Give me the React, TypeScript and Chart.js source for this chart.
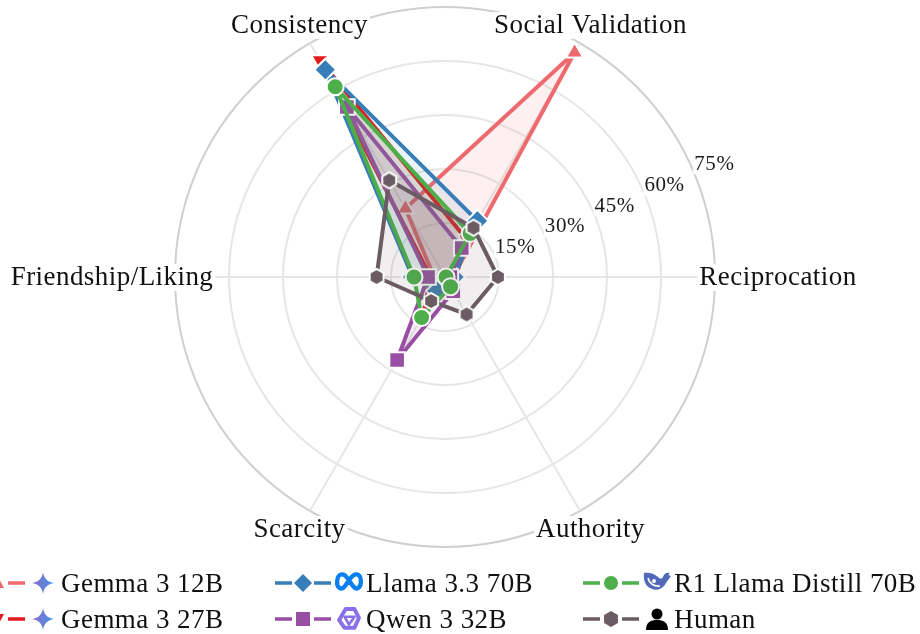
import React, { useEffect, useRef } from "react";
import { Chart, registerables } from "chart.js";

Chart.register(...registerables);

const categories = ["Reciprocation", "Authority", "Scarcity", "Friendship/Liking", "Consistency", "Social Validation"];
const tickValues = [15, 30, 45, 60, 75];

const gemma12 = [2.2, 1, 3, 3, 22, 72];
const gemma27 = [3, 2, 12, 4, 69.5, 12];
const llama70 = [2.5, 2, 4.5, 9, 66.5, 18];
const qwen32 = [1.5, 4.6, 26.6, 4.7, 54.5, 9.3];
const r1Llama = [0.3, 3.1, 13, 8.6, 61, 14];
const human = [14.7, 12, 7.7, 19, 31, 15.8];

const seriesNames = ["Gemma 3 12B", "Gemma 3 27B", "Llama 3.3 70B", "Qwen 3 32B", "R1 Llama Distill 70B", "Human"];
const seriesValues = [gemma12, gemma27, llama70, qwen32, r1Llama, human];
const seriesColors = ["#ef6a6f", "#e41a1c", "#377eb8", "#984ea3", "#4daf4a", "#6a5c62"];
const seriesFills = [
  "rgba(239,106,111,0.1)",
  "rgba(228,26,28,0.1)",
  "rgba(55,126,184,0.1)",
  "rgba(152,78,163,0.1)",
  "rgba(77,175,74,0.1)",
  "rgba(106,92,98,0.1)",
];

const SERIF = '"Liberation Serif", serif';
const LABEL_FONT = `27px ${SERIF}`;
const LABEL_SPACING = "0.45px";
const labelDistance = [333, 291, 291, 333, 291, 291];

function hexagonMarker(color: string) {
  const c = document.createElement("canvas");
  c.width = 22;
  c.height = 22;
  const g = c.getContext("2d")!;
  g.beginPath();
  for (let i = 0; i < 6; i++) {
    const a = Math.PI / 6 + (Math.PI / 3) * i;
    const x = 11 + 8 * Math.cos(a);
    const y = 11 + 8 * Math.sin(a);
    if (i === 0) g.moveTo(x, y);
    else g.lineTo(x, y);
  }
  g.closePath();
  g.fillStyle = color;
  g.fill();
  g.strokeStyle = "#fff";
  g.lineWidth = 2;
  g.stroke();
  return c;
}

const radarText = {
  id: "radarText",
  afterDraw(chart: any) {
    const scale = chart.scales.r;
    const ctx = chart.ctx;
    ctx.save();
    ctx.textAlign = "center";
    ctx.textBaseline = "middle";
    ctx.font = `21px ${SERIF}`;
    ctx.letterSpacing = "0.6px";
    const tickAngle = (-22.7 * Math.PI) / 180;
    scale.ticks.forEach((t: any) => {
      if (!tickValues.includes(t.value)) return;
      const d = scale.getDistanceFromCenterForValue(t.value) + 22;
      const x = scale.xCenter + d * Math.cos(tickAngle);
      const y = scale.yCenter + d * Math.sin(tickAngle);
      const label = `${t.value}%`;
      const w = ctx.measureText(label).width;
      ctx.fillStyle = "#fff";
      ctx.fillRect(x - w / 2 - 1, y - 10, w + 2, 20);
      ctx.fillStyle = "#1a1a1a";
      ctx.fillText(label, x, y);
    });
    ctx.font = LABEL_FONT;
    ctx.letterSpacing = LABEL_SPACING;
    categories.forEach((label, i) => {
      const p = scale.getPointPosition(i, labelDistance[i]);
      const w = ctx.measureText(label).width;
      ctx.fillStyle = "#fff";
      ctx.fillRect(p.x - w / 2 - 2, p.y - 13, w + 4, 27);
      ctx.fillStyle = "#111";
      ctx.fillText(label, p.x, p.y + 1);
    });
    ctx.restore();
  },
};

function Marker({ i, cx, cy }: { i: number; cx: number; cy: number }) {
  const c = seriesColors[i];
  if (i === 0) return <polygon points={`${cx},${cy - 8} ${cx + 7},${cy + 5} ${cx - 7},${cy + 5}`} fill={c} />;
  if (i === 1) return <polygon points={`${cx},${cy + 8} ${cx + 7},${cy - 5} ${cx - 7},${cy - 5}`} fill={c} />;
  if (i === 2) return <polygon points={`${cx},${cy - 9} ${cx + 9},${cy} ${cx},${cy + 9} ${cx - 9},${cy}`} fill={c} />;
  if (i === 3) return <rect x={cx - 7} y={cy - 7} width={14} height={14} fill={c} />;
  if (i === 4) return <circle cx={cx} cy={cy} r={7} fill={c} />;
  const pts = [0, 1, 2, 3, 4, 5]
    .map((k) => {
      const a = Math.PI / 6 + (Math.PI / 3) * k;
      return `${cx + 8 * Math.cos(a)},${cy + 8 * Math.sin(a)}`;
    })
    .join(" ");
  return <polygon points={pts} fill={c} />;
}

function Icon({ i }: { i: number }) {
  if (i === 0 || i === 1) {
    return (
      <g>
        <defs>
          <linearGradient id={`spark${i}`} x1="0" x2="1" y1="0" y2="0">
            <stop offset="0" stopColor="#8a6cc8" />
            <stop offset="1" stopColor="#4593e6" />
          </linearGradient>
        </defs>
        <path
          transform="translate(-11,-11) scale(0.92)"
          d="M12 0C12.9 7 17 11.1 24 12C17 12.9 12.9 17 12 24C11.1 17 7 12.9 0 12C7 11.1 11.1 7 12 0Z"
          fill={`url(#spark${i})`}
        />
      </g>
    );
  }
  if (i === 2) {
    return (
      <path
        transform="translate(0,-2) scale(1.08)"
        d="M-11 2C-11 -8 -5 -8 -1 -2L4 5C7 9 11 6 11 1C11 -8 5 -8 1 -2L-4 5C-7 9 -11 6 -11 2Z"
        fill="none"
        stroke="#0a7ff0"
        strokeWidth={4}
        strokeLinejoin="round"
      />
    );
  }
  if (i === 3) {
    return (
      <g fill="none" stroke="#8b6fe8" strokeWidth={3.6} strokeLinejoin="round" transform="scale(1.1)">
        <polygon points="-3,-9 5,-9 9,-1 5,8 -4,8 -9,1" />
        <polygon points="-4,-2 5,-2 0,5" strokeWidth={2.4} />
      </g>
    );
  }
  if (i === 4) {
    return (
      <g fill="#5169b8" transform="translate(0,-2)">
        <path d="M-13 -8C-9 -9 -3 -8 1 -4C3 -2 5 -2 6 -4C7 -7 9 -9 13 -8C11 -7 11 -6 14 -5C12 -2 10 0 9 2C6 8 0 10 -5 8C-11 6 -14 0 -13 -8Z" />
        <circle cx={-3} cy={0} r={2} fill="#fff" />
        <path d="M-9 -3C-8 2 -3 6 3 5" stroke="#fff" strokeWidth={1.6} fill="none" />
      </g>
    );
  }
  return (
    <g fill="#000">
      <circle cx={0} cy={-5} r={5.5} />
      <path d="M-11 11C-11 3 -6 1 0 1C6 1 11 3 11 11Z" />
    </g>
  );
}

const legendColumns = [-31, 275, 583];
const legendRows = [583, 619];
const legendOrder = [
  [0, 0],
  [0, 1],
  [1, 0],
  [1, 1],
  [2, 0],
  [2, 1],
];

export default function App() {
  const ref = useRef<HTMLCanvasElement>(null);
  useEffect(() => {
    const chart = new Chart(ref.current!, {
      type: "radar",
      plugins: [radarText],
      data: {
        labels: categories,
        datasets: seriesNames.map((name, i) => ({
          label: name,
          data: seriesValues[i],
          borderColor: seriesColors[i],
          backgroundColor: seriesFills[i],
          fill: true,
          borderWidth: 4,
          borderJoinStyle: "round",
          order: 5 - i,
          pointBackgroundColor: seriesColors[i],
          pointBorderColor: "#fff",
          pointBorderWidth: 2,
          pointRadius: [10, 10, 11, 11, 8.5, 8][i],
          pointRotation: i === 1 ? 180 : 0,
          pointStyle: (["triangle", "triangle", "rectRot", "rect", "circle", hexagonMarker(seriesColors[5])] as any)[i],
        })),
      },
      options: {
        animation: false,
        responsive: false,
        layout: { padding: { left: 0, right: 30, top: 7, bottom: 87 } },
        plugins: { legend: { display: false }, tooltip: { enabled: false } },
        scales: {
          r: {
            startAngle: 90,
            min: 0,
            max: 75,
            ticks: { stepSize: 15, display: false },
            pointLabels: { display: false },
            angleLines: { color: "#e6e6e6", lineWidth: 2 },
            grid: {
              circular: true,
              lineWidth: 2,
              color: (c: any) => (c.tick && c.tick.value === 75 ? "#cfcfcf" : "#e6e6e6"),
            },
          },
        },
      },
    } as any);
    return () => chart.destroy();
  }, []);

  return (
    <div style={{ position: "fixed", left: 0, top: 0, width: 920, height: 634, overflow: "hidden", background: "#fff" }}>
      <canvas ref={ref} width={920} height={634} style={{ display: "block" }} />
      {seriesNames.map((name, i) => {
        const [col, row] = legendOrder[i];
        const x = legendColumns[col];
        const y = legendRows[row];
        return (
          <div key={name}>
            <svg
              width={100}
              height={30}
              viewBox="0 0 100 30"
              style={{ position: "absolute", left: x, top: y - 15, overflow: "visible" }}
            >
              <line x1={0} x2={56} y1={15} y2={15} stroke={seriesColors[i]} strokeWidth={3.5} />
              <rect x={17} y={3} width={22} height={24} fill="#fff" />
              <Marker i={i} cx={28} cy={15} />
              <g transform="translate(74,15)">
                <Icon i={i} />
              </g>
            </svg>
            <div
              style={{
                position: "absolute",
                left: col === 0 ? x + 92 : x + 91,
                top: y - 15,
                height: 30,
                font: LABEL_FONT,
                lineHeight: "30px",
                letterSpacing: LABEL_SPACING,
                color: "#111",
                whiteSpace: "nowrap",
              }}
            >
              {name}
            </div>
          </div>
        );
      })}
    </div>
  );
}
